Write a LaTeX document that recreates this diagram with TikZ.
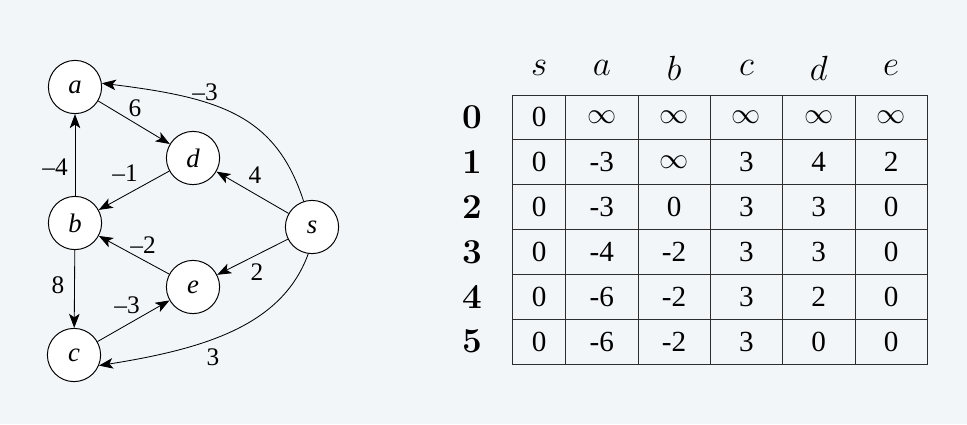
\documentclass[tikz,border=0pt]{standalone}
\usepackage{fontspec}
\newfontfamily\timesfont[Ligatures=TeX]{Liberation Serif}
\usepackage{tikz}
\usetikzlibrary{positioning,arrows.meta}
\definecolor{PageBg}{RGB}{243,246,249}
\definecolor{GridInk}{RGB}{45,45,45}

\tikzset{
  vertex/.style={circle, draw=black, fill=white, line width=0.7pt, minimum size=1.33cm, inner sep=0pt, font=\timesfont\fontsize{19}{19}\selectfont\itshape},
  edge/.style={-{Stealth[length=10pt,width=7.5pt,inset=2.5pt]}, line width=0.6pt},
  weight/.style={inner sep=1pt, font=\timesfont\fontsize{18}{18}\selectfont},
  gridline/.style={draw=GridInk, line width=0.7pt},
  cell/.style={inner sep=0pt, font=\timesfont\huge},
  colhead/.style={inner sep=0pt, font=\Huge},
  rowhead/.style={inner sep=0pt, font=\Huge\bfseries}
}

\begin{document}
\begin{tikzpicture}[x=0.025cm, y=0.025cm]
  \fill[PageBg] (0,0) rectangle (967,424);

  \node[vertex] (a) at (75,337) {a};
  \node[vertex] (d) at (193,266) {d};
  \node[vertex] (b) at (75,201) {b};
  \node[vertex] (s) at (312,197) {s};
  \node[vertex] (e) at (193,137) {e};
  \node[vertex] (c) at (74,69) {c};

  \draw[edge] (a) -- (d);
  \draw[edge] (b) -- (a);
  \draw[edge] (d) -- (b);
  \draw[edge] (s) -- (d);
  \draw[edge] (e) -- (b);
  \draw[edge] (s) -- (e);
  \draw[edge] (b) -- (c);
  \draw[edge] (c) -- (e);
  \draw[edge] (s.108) .. controls +(108:90) and +(-7:120) .. (a.8);
  \draw[edge] (s.262) .. controls +(250:75) and +(9:110) .. (c.-23);

  \node[weight] (w-ad) at (135,316) {6};
  \node[weight] (w-ba) at (55,257) {--4};
  \node[weight] (w-db) at (125,251) {--1};
  \node[weight] (w-sd) at (255,249) {4};
  \node[weight] (w-eb) at (143,179) {--2};
  \node[weight] (w-se) at (257,152) {2};
  \node[weight] (w-bc) at (58,139) {8};
  \node[weight] (w-ce) at (127,119) {--3};
  \node[weight] (w-sa) at (205,332) {--3};
  \node[weight] (w-sc) at (213,67) {3};

  \draw[gridline] (512.7,60) rectangle (927.3,329);
  \foreach \gx in {565.7,638,710.3,782.7,855}
    \draw[gridline] (\gx,60) -- (\gx,329);
  \foreach \gy in {104.7,149.7,194.7,239.7,284.7}
    \draw[gridline] (512.7,\gy) -- (927.3,\gy);

  \foreach \lbl [count=\c from 0] in {s,a,b,c,d,e} {
    \pgfmathsetmacro\cx{\c==0 ? 539.2 : 601.8+(\c-1)*72.32}
    \node[colhead] (head-\c) at (\cx,356) {$\lbl$};
  }

  \foreach \r/\vals in {0/{0,$\infty$,$\infty$,$\infty$,$\infty$,$\infty$},
                        1/{0,-3,$\infty$,3,4,2},
                        2/{0,-3,0,3,3,0},
                        3/{0,-4,-2,3,3,0},
                        4/{0,-6,-2,3,2,0},
                        5/{0,-6,-2,3,0,0}} {
    \pgfmathsetmacro\cy{306.6-\r*44.83}
    \node[rowhead] (row-\r) at (472.7,\cy) {\r};
    \foreach \v [count=\c from 0] in \vals {
      \pgfmathsetmacro\cx{\c==0 ? 539.2 : 601.8+(\c-1)*72.32}
      \node[cell] (cell-\r-\c) at (\cx,\cy) {\v};
    }
  }
\end{tikzpicture}
\end{document}
